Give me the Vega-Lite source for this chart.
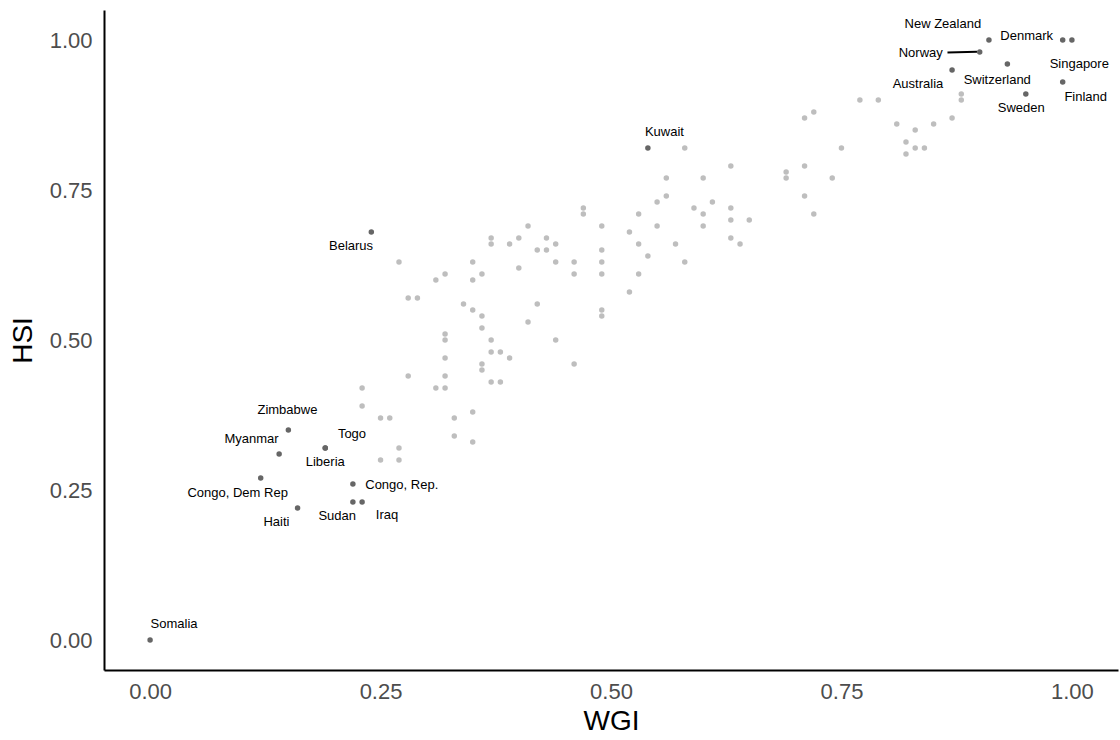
{
  "$schema": "https://vega.github.io/schema/vega-lite/v6.json",
  "width": 1014,
  "height": 660,
  "autosize": {"type": "none"},
  "padding": {"left": 104, "top": 10, "right": 2, "bottom": 70},
  "background": "white",
  "config": {
    "view": {"stroke": null},
    "font": "Liberation Sans",
    "axis": {
      "grid": false,
      "ticks": false,
      "domainColor": "black",
      "domainWidth": 2,
      "labelColor": "#4D4D4D",
      "labelFontSize": 22,
      "labelFont": "Liberation Sans",
      "titleFont": "Liberation Sans",
      "titleFontSize": 28,
      "titleFontWeight": "normal",
      "titleColor": "black"
    }
  },
  "datasets": {
    "others": [
      {"wgi":0.58,"hsi":0.82},{"wgi":0.75,"hsi":0.82},{"wgi":0.83,"hsi":0.82},{"wgi":0.84,"hsi":0.82},{"wgi":0.82,"hsi":0.81},{"wgi":0.82,"hsi":0.83},{"wgi":0.83,"hsi":0.85},{"wgi":0.81,"hsi":0.86},{"wgi":0.85,"hsi":0.86},{"wgi":0.71,"hsi":0.87},{"wgi":0.87,"hsi":0.87},{"wgi":0.72,"hsi":0.88},{"wgi":0.77,"hsi":0.90},{"wgi":0.79,"hsi":0.90},{"wgi":0.88,"hsi":0.90},{"wgi":0.88,"hsi":0.91},
      {"wgi":0.63,"hsi":0.79},{"wgi":0.71,"hsi":0.79},{"wgi":0.69,"hsi":0.78},{"wgi":0.56,"hsi":0.77},{"wgi":0.60,"hsi":0.77},{"wgi":0.69,"hsi":0.77},{"wgi":0.74,"hsi":0.77},{"wgi":0.56,"hsi":0.74},{"wgi":0.71,"hsi":0.74},{"wgi":0.55,"hsi":0.73},{"wgi":0.61,"hsi":0.73},{"wgi":0.47,"hsi":0.72},{"wgi":0.59,"hsi":0.72},{"wgi":0.63,"hsi":0.72},{"wgi":0.47,"hsi":0.71},{"wgi":0.53,"hsi":0.71},{"wgi":0.60,"hsi":0.71},{"wgi":0.72,"hsi":0.71},{"wgi":0.63,"hsi":0.70},{"wgi":0.65,"hsi":0.70},{"wgi":0.41,"hsi":0.69},{"wgi":0.49,"hsi":0.69},{"wgi":0.55,"hsi":0.69},{"wgi":0.60,"hsi":0.69},{"wgi":0.52,"hsi":0.68},
      {"wgi":0.37,"hsi":0.67},{"wgi":0.40,"hsi":0.67},{"wgi":0.43,"hsi":0.67},{"wgi":0.63,"hsi":0.67},{"wgi":0.37,"hsi":0.66},{"wgi":0.39,"hsi":0.66},{"wgi":0.44,"hsi":0.66},{"wgi":0.53,"hsi":0.66},{"wgi":0.57,"hsi":0.66},{"wgi":0.64,"hsi":0.66},{"wgi":0.42,"hsi":0.65},{"wgi":0.43,"hsi":0.65},{"wgi":0.49,"hsi":0.65},{"wgi":0.54,"hsi":0.64},{"wgi":0.27,"hsi":0.63},{"wgi":0.35,"hsi":0.63},{"wgi":0.44,"hsi":0.63},{"wgi":0.46,"hsi":0.63},{"wgi":0.49,"hsi":0.63},{"wgi":0.58,"hsi":0.63},{"wgi":0.40,"hsi":0.62},{"wgi":0.32,"hsi":0.61},{"wgi":0.36,"hsi":0.61},{"wgi":0.46,"hsi":0.61},{"wgi":0.49,"hsi":0.61},{"wgi":0.53,"hsi":0.61},{"wgi":0.31,"hsi":0.60},{"wgi":0.35,"hsi":0.60},{"wgi":0.52,"hsi":0.58},{"wgi":0.28,"hsi":0.57},{"wgi":0.29,"hsi":0.57},{"wgi":0.34,"hsi":0.56},{"wgi":0.42,"hsi":0.56},{"wgi":0.35,"hsi":0.55},{"wgi":0.49,"hsi":0.55},{"wgi":0.36,"hsi":0.54},{"wgi":0.49,"hsi":0.54},{"wgi":0.41,"hsi":0.53},{"wgi":0.36,"hsi":0.52},{"wgi":0.32,"hsi":0.51},{"wgi":0.32,"hsi":0.50},{"wgi":0.37,"hsi":0.50},{"wgi":0.44,"hsi":0.50},{"wgi":0.37,"hsi":0.48},{"wgi":0.38,"hsi":0.48},{"wgi":0.32,"hsi":0.47},{"wgi":0.39,"hsi":0.47},{"wgi":0.36,"hsi":0.46},{"wgi":0.46,"hsi":0.46},{"wgi":0.36,"hsi":0.45},{"wgi":0.28,"hsi":0.44},{"wgi":0.32,"hsi":0.44},{"wgi":0.37,"hsi":0.43},{"wgi":0.38,"hsi":0.43},{"wgi":0.23,"hsi":0.42},{"wgi":0.31,"hsi":0.42},{"wgi":0.32,"hsi":0.42},{"wgi":0.23,"hsi":0.39},{"wgi":0.35,"hsi":0.38},{"wgi":0.25,"hsi":0.37},{"wgi":0.26,"hsi":0.37},{"wgi":0.33,"hsi":0.37},{"wgi":0.33,"hsi":0.34},{"wgi":0.35,"hsi":0.33},{"wgi":0.27,"hsi":0.32},{"wgi":0.25,"hsi":0.30},{"wgi":0.27,"hsi":0.30}
    ],
    "labelled": [
      {"country":"Somalia","wgi":0.00,"hsi":0.00,"lx":0.026,"ly":0.026},
      {"country":"Haiti","wgi":0.16,"hsi":0.22,"lx":0.137,"ly":0.197},
      {"country":"Sudan","wgi":0.22,"hsi":0.23,"lx":0.203,"ly":0.207},
      {"country":"Iraq","wgi":0.23,"hsi":0.23,"lx":0.257,"ly":0.209},
      {"country":"Congo, Rep.","wgi":0.22,"hsi":0.26,"lx":0.273,"ly":0.258},
      {"country":"Congo, Dem Rep","wgi":0.12,"hsi":0.27,"lx":0.095,"ly":0.245},
      {"country":"Myanmar","wgi":0.14,"hsi":0.31,"lx":0.110,"ly":0.335},
      {"country":"Togo","wgi":0.19,"hsi":0.32,"lx":0.219,"ly":0.343},
      {"country":"Liberia","wgi":0.19,"hsi":0.32,"lx":0.190,"ly":0.296},
      {"country":"Zimbabwe","wgi":0.15,"hsi":0.35,"lx":0.149,"ly":0.384},
      {"country":"Belarus","wgi":0.24,"hsi":0.68,"lx":0.218,"ly":0.656},
      {"country":"Kuwait","wgi":0.54,"hsi":0.82,"lx":0.558,"ly":0.847},
      {"country":"New Zealand","wgi":0.91,"hsi":1.00,"lx":0.860,"ly":1.026},
      {"country":"Denmark","wgi":0.99,"hsi":1.00,"lx":0.951,"ly":1.007},
      {"country":"Singapore","wgi":1.00,"hsi":1.00,"lx":1.008,"ly":0.960},
      {"country":"Norway","wgi":0.90,"hsi":0.98,"lx":0.836,"ly":0.978},
      {"country":"Australia","wgi":0.87,"hsi":0.95,"lx":0.833,"ly":0.927},
      {"country":"Switzerland","wgi":0.93,"hsi":0.96,"lx":0.919,"ly":0.933},
      {"country":"Finland","wgi":0.99,"hsi":0.93,"lx":1.015,"ly":0.905},
      {"country":"Sweden","wgi":0.95,"hsi":0.91,"lx":0.945,"ly":0.886}
    ],
    "segments": [
      {"country":"Norway","sx":0.865,"sy":0.979,"ex":0.897,"ey":0.9805}
    ]
  },
  "layer": [
    {
      "data": {"name": "others"},
      "mark": {"type": "circle", "size": 30, "color": "#BEBEBE", "opacity": 1},
      "encoding": {
        "x": {"field": "wgi", "type": "quantitative", "title": "WGI",
              "scale": {"domain": [-0.05, 1.05], "nice": false, "zero": false},
              "axis": {"values": [0, 0.25, 0.5, 0.75, 1], "format": ".2f", "labelPadding": 11, "titlePadding": 5}},
        "y": {"field": "hsi", "type": "quantitative", "title": "HSI",
              "scale": {"domain": [-0.05, 1.05], "nice": false, "zero": false},
              "axis": {"values": [0, 0.25, 0.5, 0.75, 1], "format": ".2f", "labelPadding": 12, "titlePadding": 12}}
      }
    },
    {
      "data": {"name": "segments"},
      "mark": {"type": "rule", "color": "black", "strokeWidth": 2},
      "encoding": {
        "x": {"field": "sx", "type": "quantitative"},
        "y": {"field": "sy", "type": "quantitative"},
        "x2": {"field": "ex"},
        "y2": {"field": "ey"}
      }
    },
    {
      "data": {"name": "labelled"},
      "mark": {"type": "circle", "size": 30, "color": "#666666", "opacity": 1},
      "encoding": {
        "x": {"field": "wgi", "type": "quantitative"},
        "y": {"field": "hsi", "type": "quantitative"}
      }
    },
    {
      "data": {"name": "labelled"},
      "mark": {"type": "text", "fontSize": 13, "font": "Liberation Sans", "color": "black", "align": "center", "baseline": "middle"},
      "encoding": {
        "x": {"field": "lx", "type": "quantitative"},
        "y": {"field": "ly", "type": "quantitative"},
        "text": {"field": "country"}
      }
    }
  ]
}
